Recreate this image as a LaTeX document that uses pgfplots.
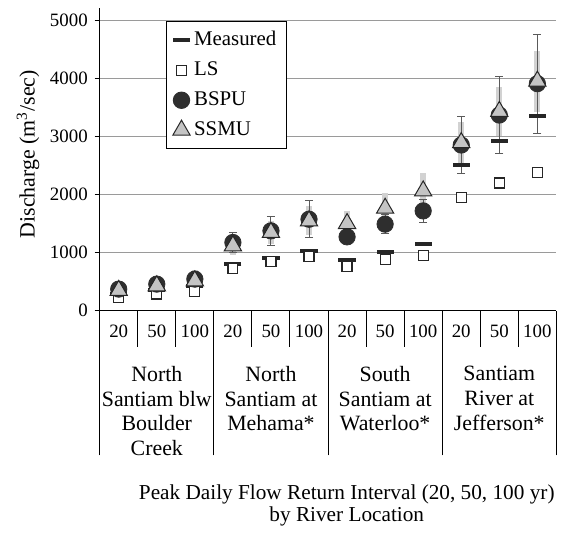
\documentclass[border=0pt]{standalone}
\usepackage{fontspec}
\setmainfont{Liberation Serif}
\usepackage{pgfplots}
\usepackage{pgfplotstable}
\pgfplotsset{compat=1.18}
\definecolor{bspu}{HTML}{2E2E2E}
\definecolor{ssmu}{HTML}{C4C4C4}
\definecolor{ssmuerr}{HTML}{D2D2D2}
\definecolor{gridc}{HTML}{9A9A9A}
\definecolor{errc}{HTML}{5A5A5A}
\pgfplotstableread{
x meas ls bspu bspuerr ssmu ssmuerr
0.5 290 230 373 60 350 80
1.5 350 290 459 70 430 100
2.5 420 330 545 90 515 185
3.5 802 728 1175 180 1117 150
4.5 910 842 1375 255 1347 200
5.5 1031 935 1575 318 1546 250
6.5 876 763 1272 120 1501 218
7.5 1014 876 1490 160 1764 258
8.5 1146 945 1718 195 2062 300
9.5 2508 1948 2852 487 2893 358
10.5 2921 2199 3367 659 3430 415
11.5 3350 2378 3907 850 3950 527
}\data
\tikzset{grp/.style={anchor=north, inner sep=0pt, align=center, font=\fontsize{11}{12.5}\selectfont, yshift=-27.5bp}}
\begin{document}
\begin{tikzpicture}
\begin{axis}[name=ax, scale only axis, width=229bp, height=151.6bp,
  xmin=0, xmax=12, ymin=0, ymax=5200,
  axis lines*=left,
  axis line style={black, line width=0.6bp},
  ytick={0,1000,...,5000},
  yticklabels={0,1000,2000,3000,4000,5000},
  ymajorgrids, major grid style={gridc, line width=0.5bp},
  tick align=outside, major tick length=2.5bp,
  ytick style={black, line width=0.5bp},
  xtick={0.5,1.5,...,11.5},
  xticklabels={20,50,100,20,50,100,20,50,100,20,50,100},
  major x tick style={draw=none},
  minor xtick={1,2,4,5,7,8,10,11}, minor tick length=18bp,
  minor x tick style={draw=black, line width=0.5bp},
  extra x ticks={0,3,6,9,12}, extra x tick labels={},
  extra x tick style={major tick length=72.5bp, major x tick style={draw=black, line width=0.5bp}, grid=none},
  tick label style={font=\fontsize{9.5}{11}\selectfont},
  xticklabel style={yshift=-1bp},
  ylabel={Discharge (m\textsuperscript{3}/sec)},
  ylabel style={at={(axis description cs:-0.157,0.518)}, anchor=center, font=\fontsize{11}{13}\selectfont},
  xlabel={Peak Daily Flow Return Interval (20, 50, 100 yr)\\by River Location},
  xlabel style={at={(axis description cs:0.541,0)}, anchor=north, yshift=-83.5bp, align=center, font=\fontsize{10.7}{11.5}\selectfont},
  legend style={at={(axis description cs:0.146,0.959)}, anchor=north west, draw=black, line width=0.5bp, fill=white,
    font=\fontsize{10.5}{12}\selectfont, row sep=2.6bp, inner sep=3bp},
  legend cell align=left,
  clip=false,
]
% SSMU uncertainty (thick grey bars)
\addplot[forget plot, draw=none, mark=none,
  error bars/.cd, y dir=both, y explicit,
  error bar style={draw=ssmuerr, line width=3bp}, error mark=none]
  table[x=x, y=ssmu, y error=ssmuerr]{\data};
% BSPU uncertainty (thin bars with caps)
\addplot[forget plot, draw=none, mark=none,
  error bars/.cd, y dir=both, y explicit,
  error bar style={draw=errc, line width=0.5bp}, error mark options={draw=errc, line width=0.5bp, mark size=2bp, rotate=90}]
  table[x=x, y=bspu, y error=bspuerr]{\data};
\addplot[only marks, mark=-, mark size=4.3bp, mark options={line width=2bp, draw=black!85}]
  table[x=x, y=meas]{\data};
\addlegendentry{Measured}
\addplot[only marks, mark=square*, mark size=2.5bp, mark options={fill=white, draw=black!85, line width=0.6bp}]
  table[x=x, y=ls]{\data};
\addlegendentry{LS}
\addplot[only marks, mark=*, mark size=4.1bp, mark options={fill=bspu, draw=bspu}]
  table[x=x, y=bspu]{\data};
\addlegendentry{BSPU}
\addplot[only marks, mark=triangle*, mark size=5bp, mark options={fill=ssmu, draw=black!85, line width=0.5bp}]
  table[x=x, y=ssmu]{\data};
\addlegendentry{SSMU}
\node[grp] at (axis cs:1.5,0) {North\\Santiam blw\\Boulder\\Creek};
\node[grp] at (axis cs:4.5,0) {North\\Santiam at\\Mehama*};
\node[grp] at (axis cs:7.5,0) {South\\Santiam at\\Waterloo*};
\node[grp] at (axis cs:10.5,0) {Santiam\\River at\\Jefferson*};
\end{axis}
\path ([xshift=-50bp, yshift=-106.65bp]ax.south west) rectangle ([xshift=2.5bp, yshift=4.25bp]ax.north east);
\end{tikzpicture}
\end{document}
